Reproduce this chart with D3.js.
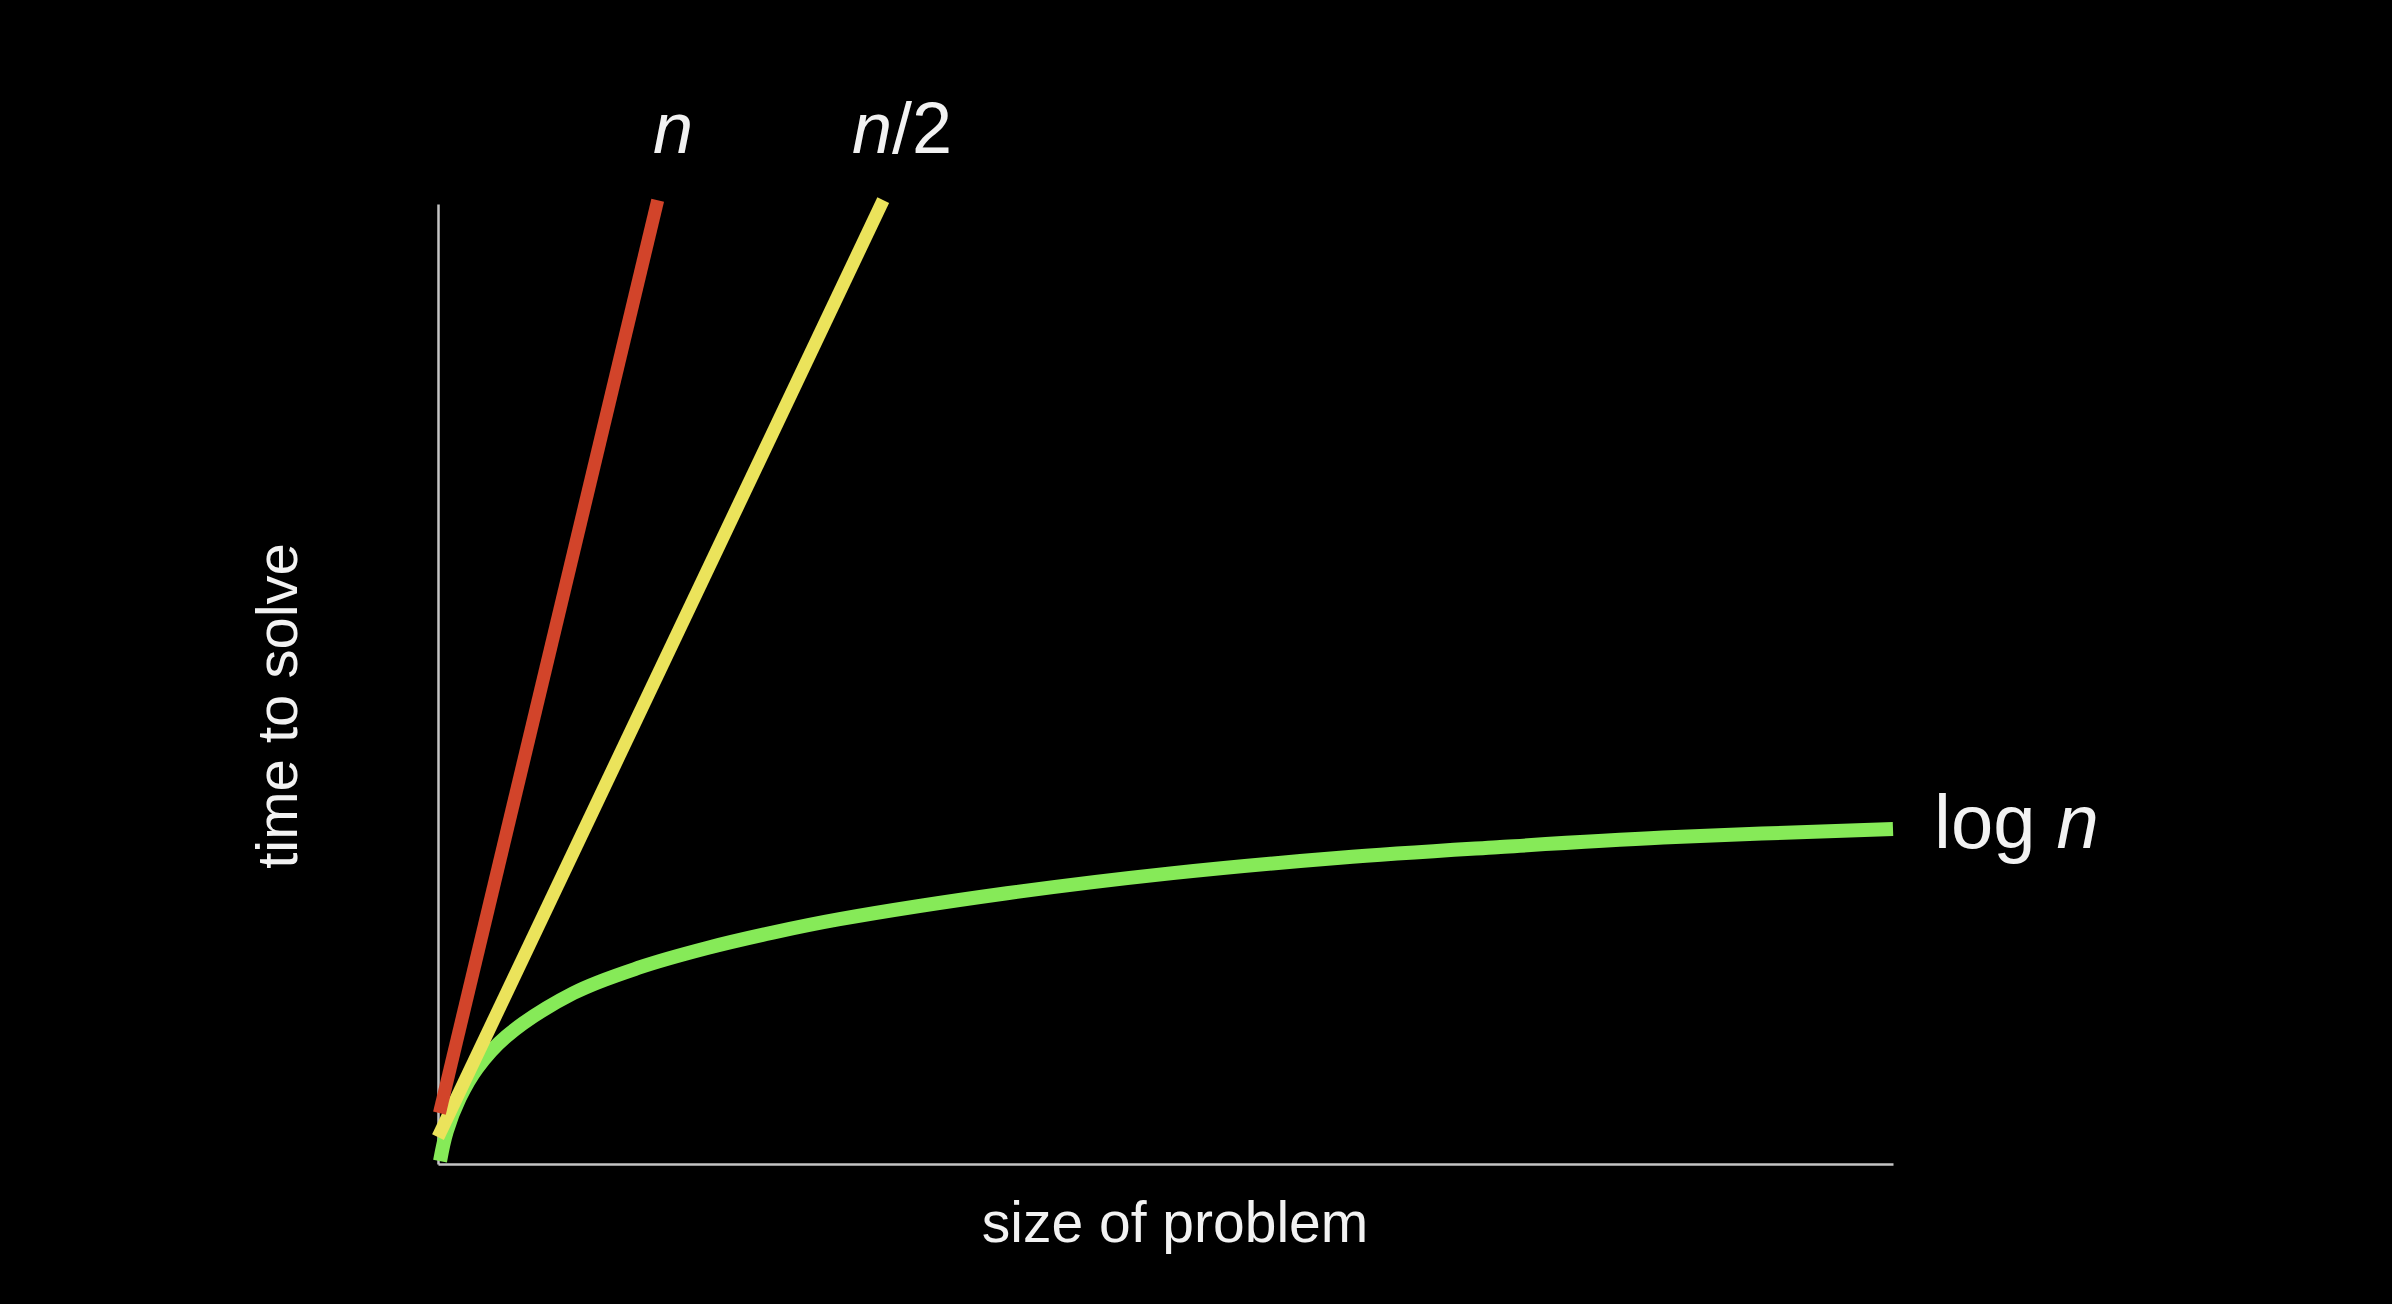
<!DOCTYPE html>
<html>
<head>
<meta charset="utf-8">
<script src="https://cdn.jsdelivr.net/npm/d3@7"></script>
<style>
  html, body { margin: 0; padding: 0; background: #000; }
  svg { display: block; }
  text { font-family: "Liberation Sans", Arial, Helvetica, sans-serif; fill: #f2f2f2; }
</style>
</head>
<body>
<script>
// ---- data (problem size 0..100, time 0..100) ----
const nSeries = [ {x: 0.1, y: 5.3}, {x: 15.1, y: 100.4} ];
const halfSeries = [ {x: 0.0, y: 2.8}, {x: 30.6, y: 100.4} ];
const logX = [0.14, 0.6, 1.5, 2.7, 4.7, 9.3, 13.9, 18.5, 23.0, 27.6, 39.1, 50.5, 62.0, 72.8, 84.2, 100];
const logY = [0.3, 3.4, 6.9, 10.0, 13.3, 17.8, 20.5, 22.5, 24.1, 25.5, 28.2, 30.3, 31.9, 33.0, 34.0, 34.9];
const xLabel = "size of problem";
const yLabel = "time to solve";

const logSeries = logX.map((v, i) => ({x: v, y: logY[i]}));

const W = 2392, H = 1304;
const svg = d3.select("body").append("svg").attr("width", W).attr("height", H)
  .style("background", "#000");

const x = d3.scaleLinear().domain([0, 100]).range([438, 1893]);
const y = d3.scaleLinear().domain([0, 100]).range([1164, 204]);

// axes (lines only)
svg.append("g").attr("transform", `translate(0,${y(0)})`)
  .call(d3.axisBottom(x).tickValues([]).tickSizeOuter(0));
svg.append("g").attr("transform", `translate(${x(0)},0)`)
  .call(d3.axisLeft(y).tickValues([]).tickSizeOuter(0));
svg.selectAll(".domain").attr("stroke", "#c4c4c4").attr("stroke-width", 2.5);

const line = d3.line().x(d => x(d.x)).y(d => y(d.y));
const curve = d3.line().x(d => x(d.x)).y(d => y(d.y)).curve(d3.curveCatmullRom.alpha(0.5));

svg.append("path").datum(logSeries).attr("d", curve)
  .attr("fill", "none").attr("stroke", "#86ea58").attr("stroke-width", 14).attr("stroke-linecap", "butt");
svg.append("path").datum(halfSeries).attr("d", line)
  .attr("fill", "none").attr("stroke", "#ebe35b").attr("stroke-width", 13).attr("stroke-linecap", "butt");
svg.append("path").datum(nSeries).attr("d", line)
  .attr("fill", "none").attr("stroke", "#d2442a").attr("stroke-width", 13).attr("stroke-linecap", "butt");

// series labels
svg.append("text").attr("x", 673).attr("y", 153).attr("text-anchor", "middle")
  .style("font-size", "72px").style("font-style", "italic").text("n");
const t2 = svg.append("text").attr("x", 902).attr("y", 153).attr("text-anchor", "middle")
  .style("font-size", "72px");
t2.append("tspan").style("font-style", "italic").text("n");
t2.append("tspan").text("/2");
const t3 = svg.append("text").attr("x", 1934).attr("y", 848).attr("text-anchor", "start")
  .style("font-size", "76px");
t3.append("tspan").text("log ");
t3.append("tspan").style("font-style", "italic").text("n");

// axis titles
svg.append("text").attr("x", 1175).attr("y", 1242).attr("text-anchor", "middle")
  .style("font-size", "57px").text(xLabel);
svg.append("text").attr("transform", "translate(297,706) rotate(-90)").attr("text-anchor", "middle")
  .style("font-size", "58px").text(yLabel);
</script>
</body>
</html>
